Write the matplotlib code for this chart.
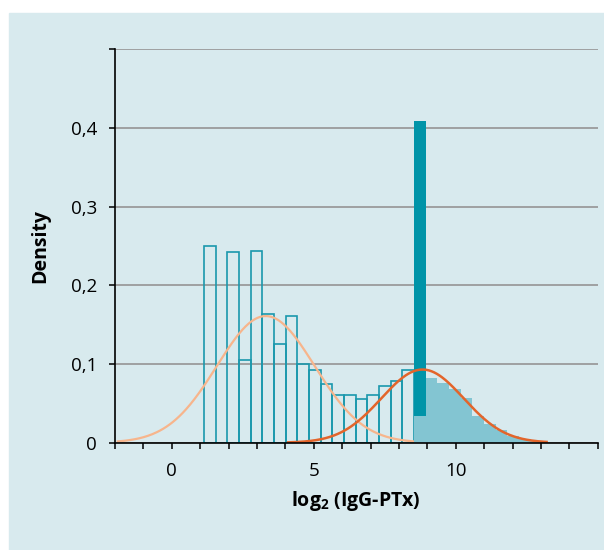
import numpy as np
import matplotlib.pyplot as plt
from matplotlib.patches import Rectangle

plt.rcParams['font.family'] = ['Open Sans', 'DejaVu Sans']
plt.rcParams['mathtext.fontset'] = 'custom'
plt.rcParams['mathtext.rm'] = 'Open Sans'
plt.rcParams['mathtext.bf'] = 'Open Sans:bold'

# histogram bins (log2 scale)
BIN_START = 1.137
BIN_WIDTH = 0.411

# hollow histogram (low titre group), 18 bins from BIN_START
low_density = [0.250, 0.0, 0.242, 0.105, 0.244, 0.1635, 0.125, 0.161, 0.100,
               0.092, 0.075, 0.060, 0.060, 0.055, 0.060, 0.072, 0.079, 0.092]

# single dark bar right after the hollow bins
spike_density = 0.409

# light filled histogram (high titre group), starts at the spike bin
high_density = [0.0343, 0.0822, 0.0759, 0.0682, 0.0568, 0.0339, 0.0237,
                0.0161, 0.0085, 0.0045, 0.002]

# fitted normal components: mean, sd, weight
low_fit = (3.31, 1.72, 0.694)
high_fit = (8.83, 1.45, 0.338)
low_fit_range = (-1.9, 9.5)
high_fit_range = (4.1, 13.2)

y_ticks = [0, 0.1, 0.2, 0.3, 0.4, 0.5]
y_labels = ['0', '0,1', '0,2', '0,3', '0,4', '']
x_ticks = np.arange(-2, 16)
x_labels = {0: '0', 5: '5', 10: '10'}

BG = '#d8eaee'
HOLLOW = '#1a98ad'
DARK = '#0094a8'
LIGHT = '#83c5d2'
ORANGE_LIGHT = '#f7b58c'
ORANGE_DARK = '#e3652b'


def normal_curve(params, lo, hi):
    mu, sd, w = params
    xs = np.linspace(lo, hi, 300)
    return xs, w * np.exp(-0.5 * ((xs - mu) / sd) ** 2) / (sd * np.sqrt(2 * np.pi))


fig = plt.figure(figsize=(6.04, 5.5), dpi=100, facecolor='white')
fig.patches.append(Rectangle((9 / 604, 0), 1, (550 - 13) / 550,
                             transform=fig.transFigure, color=BG, zorder=-10))

ax = fig.add_axes([115 / 604, 1 - 442.7 / 550, 482.7 / 604, 393.4 / 550])
ax.set_facecolor(BG)

n_low = len(low_density)
low_edges = BIN_START + BIN_WIDTH * np.arange(n_low)
ax.bar(low_edges, low_density, width=BIN_WIDTH, align='edge',
       facecolor='none', edgecolor=HOLLOW, linewidth=1.2, zorder=2)

xs, ys = normal_curve(low_fit, *low_fit_range)
ax.plot(xs, ys, color=ORANGE_LIGHT, lw=1.6, zorder=2.5)

spike_edge = BIN_START + BIN_WIDTH * n_low
ax.bar([spike_edge], [spike_density], width=BIN_WIDTH, align='edge',
       color=DARK, linewidth=0, zorder=3)

high_edges = spike_edge + BIN_WIDTH * np.arange(len(high_density))
ax.bar(high_edges, high_density, width=BIN_WIDTH, align='edge',
       color=LIGHT, linewidth=0, zorder=3.1)

xs, ys = normal_curve(high_fit, *high_fit_range)
ax.plot(xs, ys, color=ORANGE_DARK, lw=1.8, zorder=4)

ax.set_xlim(-2, 15)
ax.set_ylim(0, 0.5)
ax.set_axisbelow(True)
ax.yaxis.grid(True, color='#9b9b9b', lw=1.3)
ax.set_yticks(y_ticks)
ax.set_yticklabels(y_labels)
ax.set_xticks(x_ticks)
ax.set_xticklabels([x_labels.get(int(t), '') for t in x_ticks])

for side in ['top', 'right']:
    ax.spines[side].set_visible(False)
for side in ['left', 'bottom']:
    ax.spines[side].set_linewidth(1.2)
    ax.spines[side].set_zorder(5)

ax.tick_params(axis='both', direction='out', length=4, width=1.1,
               labelsize=13.5, colors='black')
ax.tick_params(axis='x', pad=10)
ax.tick_params(axis='y', pad=9)

fig.text(40 / 604, 1 - 246 / 550, 'Density', rotation=90, ha='center',
         va='center', fontsize=14, fontweight='bold')
fig.text(356 / 604, 1 - 501 / 550, r'log$_\mathbf{2}$ (IgG-PTx)', ha='center',
         va='center', fontsize=14, fontweight='bold')

fig.savefig('out.png', dpi=100)
